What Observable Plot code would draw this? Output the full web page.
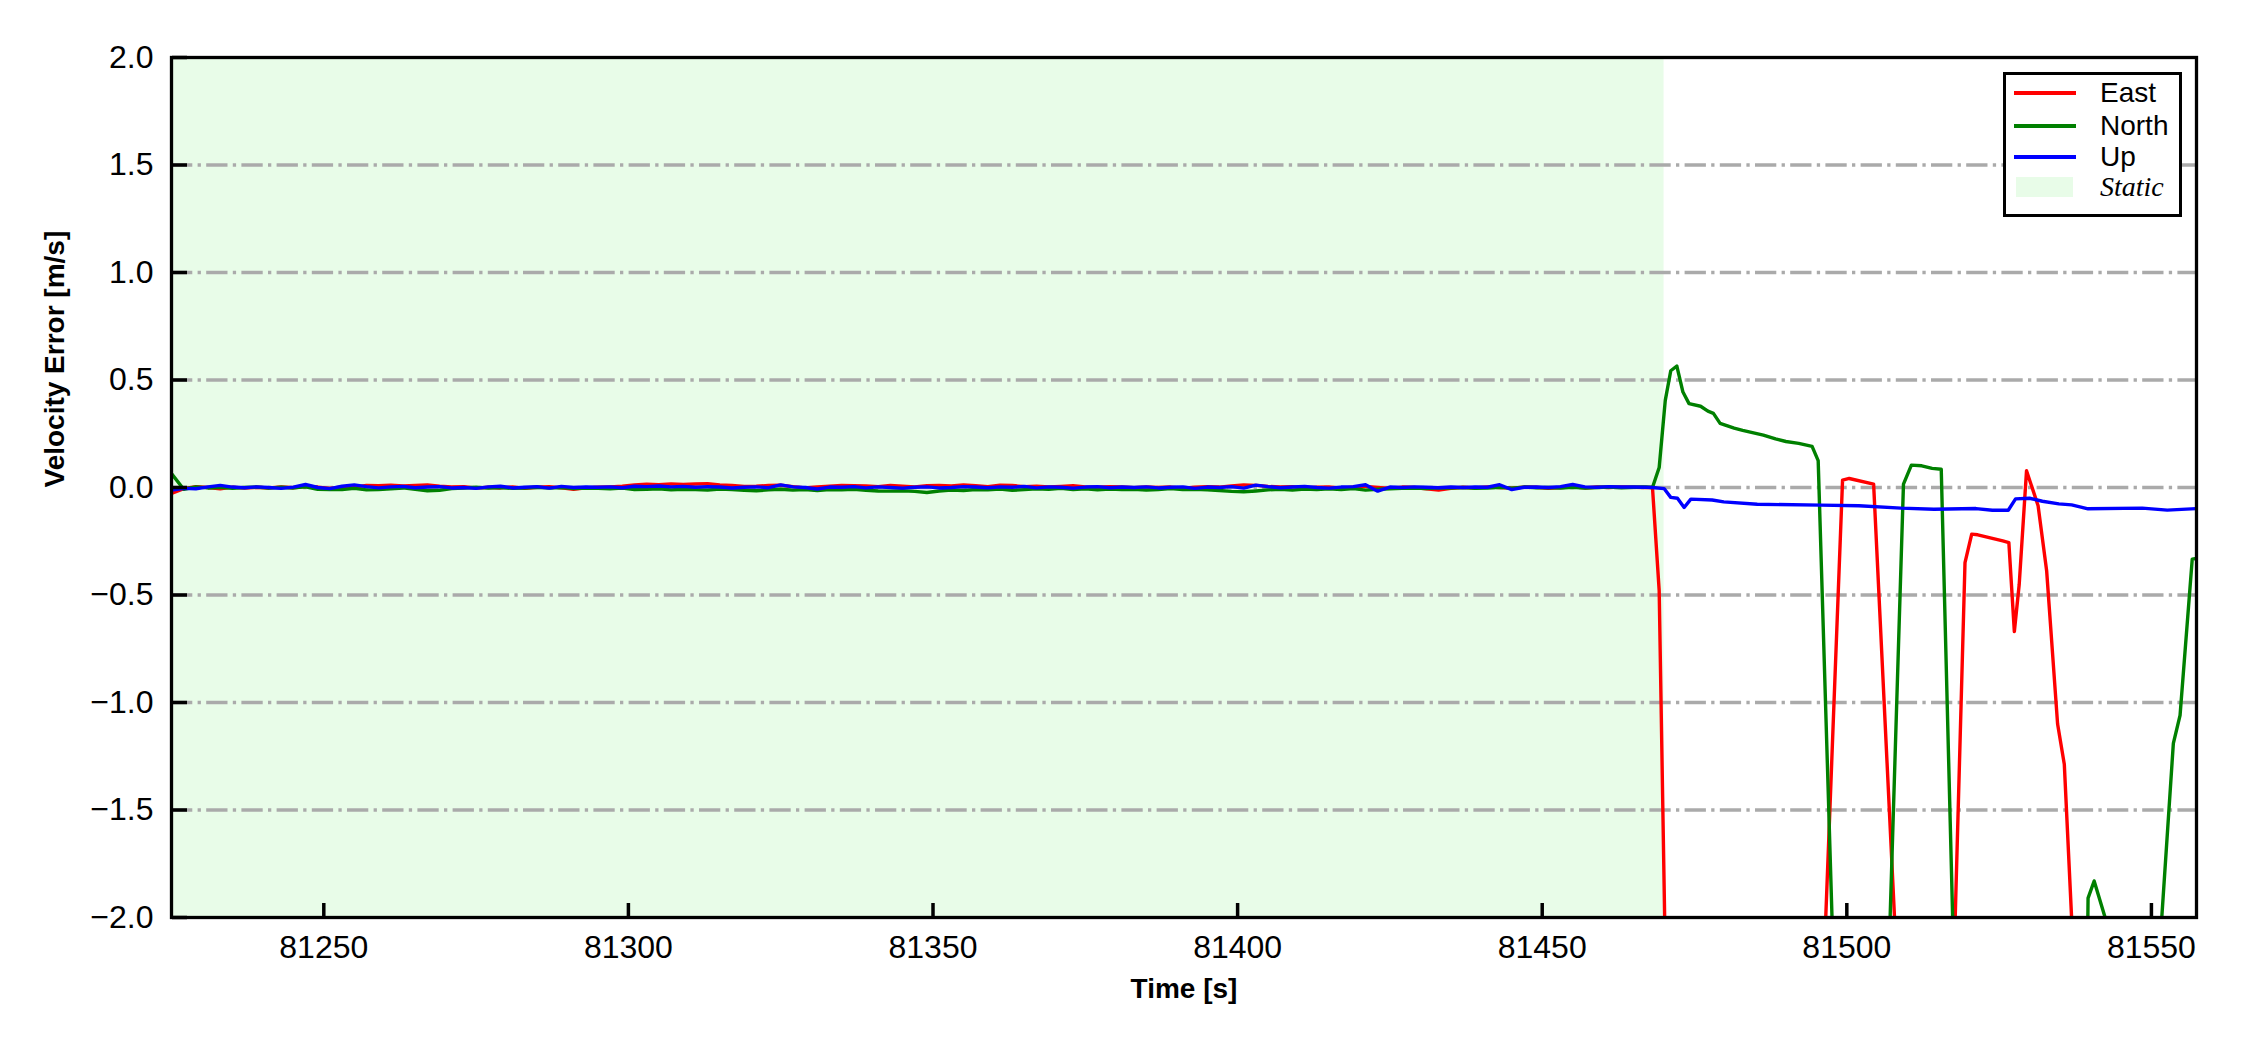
<!DOCTYPE html>
<html>
<head>
<meta charset="utf-8">
<script src="https://cdn.jsdelivr.net/npm/d3@7"></script>
<script src="https://cdn.jsdelivr.net/npm/@observablehq/plot@0.6"></script>
<style>
html, body { margin: 0; padding: 0; background: #fff; }
#wrap { position: relative; width: 2250px; height: 1050px; }
.legend { position: absolute; left: 2003px; top: 72px; width: 179px; height: 145px; box-sizing: border-box;
  border: 3px solid #000; background: #fff; font-family: "Liberation Sans", Arial, sans-serif; font-size: 28px; }
.legend .ln { position: absolute; left: 8px; width: 62px; height: 3.5px; }
.legend .tx { position: absolute; left: 94px; height: 32px; line-height: 32px; white-space: nowrap; color: #000; }
.legend .patch { position: absolute; left: 10px; width: 57px; top: 102px; height: 20px; }
</style>
</head>
<body>
<div id="wrap"></div>
<script>
// ---------------- data ----------------
const seriesNames = ["East", "North", "Up"];
const seriesColors = ["#ff0000", "#008000", "#0000ff"];
const staticLabel = "Static";
const staticColor = "#e8fce8";
const staticStart = 81225;
const staticEnd = 81470;
const xDomain = [81225, 81557.4];
const yDomain = [-2, 2];
const xTicks = [81250, 81300, 81350, 81400, 81450, 81500, 81550];
const yTicks = [-2.0, -1.5, -1.0, -0.5, 0.0, 0.5, 1.0, 1.5, 2.0];
const gridValues = [-1.5, -1.0, -0.5, 0.0, 0.5, 1.0, 1.5];

// static period samples every 2 s from 81225 to 81467
const staticTimes = d3.range(81225, 81468, 2);

const eastStatic = [
  -0.028, -0.005, 0.004, 0.000, -0.006, 0.002, -0.003, 0.001, -0.002, 0.003,
  -0.001, 0.006, 0.002, -0.004, 0.003, 0.002, 0.010, 0.008, 0.011, 0.007,
  0.009, 0.012, 0.006, 0.002, 0.004, -0.003, 0.001, -0.002, 0.003, -0.004,
  0.001, 0.004, -0.002, -0.008, -0.002, 0.001, 0.003, 0.006, 0.012, 0.015,
  0.013, 0.017, 0.014, 0.016, 0.018, 0.012, 0.010, 0.005, 0.006, 0.009,
  0.011, 0.004, -0.002, 0.003, 0.006, 0.010, 0.008, 0.007, 0.004, 0.009,
  0.006, 0.003, 0.008, 0.010, 0.007, 0.012, 0.008, 0.004, 0.011, 0.009,
  0.004, 0.006, 0.002, 0.005, 0.008, 0.003, 0.001, 0.004, 0.002, -0.001,
  0.003, 0.000, 0.002, -0.003, 0.001, 0.004, 0.002, 0.007, 0.012, 0.010,
  0.005, 0.002, 0.004, -0.002, 0.001, 0.003, -0.003, 0.002, 0.005, 0.000,
  -0.004, 0.002, 0.000, -0.006, -0.012, -0.004, 0.001, -0.002, 0.003, 0.000,
  -0.003, 0.002, 0.001, -0.004, 0.000, 0.003, -0.002, 0.002, 0.000, 0.003,
  0.001, 0.000
];
const northStatic = [
  0.065, -0.008, 0.003, -0.002, 0.001, -0.004, 0.000, 0.002, -0.003, 0.001,
  -0.002, 0.003, -0.008, -0.010, -0.009, -0.004, -0.011, -0.010, -0.006, -0.002,
  -0.008, -0.015, -0.013, -0.005, -0.002, 0.001, -0.003, 0.000, -0.004, -0.002,
  0.001, -0.003, 0.000, -0.005, -0.002, -0.004, -0.006, -0.003, -0.009, -0.008,
  -0.006, -0.011, -0.008, -0.010, -0.012, -0.007, -0.009, -0.013, -0.015, -0.011,
  -0.008, -0.012, -0.010, -0.014, -0.009, -0.011, -0.008, -0.013, -0.016, -0.017,
  -0.015, -0.018, -0.023, -0.016, -0.012, -0.014, -0.009, -0.011, -0.007, -0.013,
  -0.010, -0.006, -0.008, -0.004, -0.009, -0.006, -0.011, -0.007, -0.010, -0.008,
  -0.012, -0.009, -0.005, -0.010, -0.008, -0.011, -0.014, -0.018, -0.020, -0.016,
  -0.011, -0.008, -0.012, -0.007, -0.010, -0.006, -0.009, -0.005, -0.012, -0.008,
  -0.006, -0.004, -0.002, -0.005, -0.001, -0.003, 0.000, -0.004, -0.002, 0.001,
  -0.003, 0.002, -0.001, 0.000, -0.002, 0.001, -0.003, 0.000, 0.002, -0.001,
  0.001, 0.002
];
const upStatic = [
  -0.012, -0.004, -0.006, 0.003, 0.010, 0.002, -0.001, 0.003, 0.000, -0.004,
  0.002, 0.014, 0.000, -0.005, 0.006, 0.012, 0.004, -0.002, 0.003, 0.005,
  -0.001, 0.002, 0.004, -0.002, 0.000, -0.004, 0.003, 0.006, -0.002, 0.001,
  0.004, -0.003, 0.005, 0.000, 0.002, 0.001, 0.003, -0.001, 0.006, 0.004,
  0.007, 0.003, 0.005, 0.001, 0.004, 0.002, -0.002, 0.001, 0.003, -0.001,
  0.012, 0.003, 0.000, -0.007, 0.002, 0.001, 0.004, -0.002, 0.003, 0.000,
  -0.003, 0.001, 0.003, -0.002, 0.000, 0.004, 0.002, -0.001, 0.003, 0.001,
  0.005, -0.002, 0.003, 0.001, -0.003, 0.002, 0.004, -0.001, 0.002, 0.000,
  0.003, -0.002, 0.001, 0.003, -0.004, 0.002, 0.000, 0.004, -0.003, 0.011,
  0.004, -0.001, 0.002, 0.005, 0.000, -0.003, 0.002, 0.004, 0.013, -0.017,
  0.002, 0.000, 0.003, 0.001, -0.001, 0.002, 0.000, 0.002, 0.001, 0.013,
  -0.010, 0.001, 0.002, 0.000, 0.004, 0.014, 0.003, 0.001, 0.004, 0.002,
  0.002, 0.001
];

// after the static period
const eastMoveT = [81468.1, 81469.2, 81470.1, 81471, 81480, 81490, 81496, 81499.3, 81500.4, 81504.4,
  81508, 81512, 81517.5, 81519.4, 81520.5, 81521.5, 81525.6, 81526.6, 81527.5, 81528.3,
  81529.5, 81531.4, 81532.8, 81534.6, 81535.7, 81537.5, 81545, 81557.4];
const eastMoveV = [0.0, -0.48, -2.0, -4.5, -6, -6, -2.4, 0.034, 0.042, 0.016,
  -2.1, -5, -2.3, -0.349, -0.217, -0.22, -0.248, -0.256, -0.67, -0.45,
  0.078, -0.085, -0.387, -1.1, -1.287, -2.36, -5, -5];

const northMoveT = [81468.1, 81469.2, 81470.2, 81471.1, 81472.1, 81473.1, 81474.1, 81476, 81477.2, 81478.1,
  81479.2, 81481.5, 81482.9, 81486.3, 81488.3, 81490, 81492.1, 81494.3, 81495.3, 81498,
  81503, 81507, 81509.3, 81510.6, 81512.3, 81514, 81515.5, 81518, 81525, 81539,
  81539.6, 81540.6, 81542.4, 81543.5, 81547, 81551, 81553.6, 81554.7, 81556.7, 81557.4];
const northMoveV = [0.0, 0.093, 0.405, 0.543, 0.565, 0.444, 0.390, 0.378, 0.355, 0.345,
  0.298, 0.276, 0.266, 0.244, 0.226, 0.214, 0.205, 0.191, 0.125, -2.4,
  -5, -2.1, 0.016, 0.104, 0.101, 0.089, 0.085, -2.7, -5, -3.5,
  -1.91, -1.83, -2.0, -3.0, -4.0, -2.3, -1.19, -1.06, -0.333, -0.33];

const upMoveT = [81468.1, 81470, 81471.1, 81472.2, 81473.3, 81474.4, 81477.9, 81479.8, 81485.3, 81495.7,
  81502, 81508.9, 81514.3, 81521.2, 81523.9, 81526.5, 81527.7, 81530, 81532.1, 81534.8,
  81536.9, 81539.6, 81548.5, 81552.6, 81557.4];
const upMoveV = [0.0, -0.005, -0.046, -0.05, -0.093, -0.054, -0.058, -0.067, -0.078, -0.082,
  -0.085, -0.096, -0.101, -0.098, -0.106, -0.106, -0.053, -0.05, -0.064, -0.076,
  -0.081, -0.099, -0.096, -0.105, -0.098];

// ---------------- build ----------------
function build(staticVals, moveT, moveV) {
  return staticTimes.map((t, i) => ({t, v: staticVals[i]}))
    .concat(moveT.map((t, i) => ({t, v: moveV[i]})));
}
const seriesData = [
  build(eastStatic, eastMoveT, eastMoveV),
  build(northStatic, northMoveT, northMoveV),
  build(upStatic, upMoveT, upMoveV)
];

const font = '"Liberation Sans", Arial, Helvetica, sans-serif';
const lineW = 3.4;
const W = 2250, H = 1050;
const mL = 171, mR = 54, mT = 57, mB = 133;
const frameW = W - mL - mR, frameH = H - mT - mB;

const chart = Plot.plot({
  width: W,
  height: H,
  marginLeft: mL,
  marginRight: mR,
  marginTop: mT,
  marginBottom: mB,
  style: {fontFamily: font, fontSize: "32px", background: "white", color: "black"},
  x: {domain: xDomain},
  y: {domain: yDomain},
  marks: [
    Plot.rect([{x1: staticStart, x2: staticEnd}], {x1: "x1", x2: "x2", fill: staticColor}),
    Plot.ruleY(gridValues, {stroke: "#aaaaaa", strokeWidth: 3.3, strokeDasharray: "21.3,5.3,3.3,5.3"}),
    ...seriesData.map((d, i) => Plot.line(d, {x: "t", y: "v", stroke: seriesColors[i], strokeWidth: lineW, clip: true})),
    // inward ticks: a top axis shifted onto the bottom edge, a right axis shifted onto the left edge
    Plot.axisX({anchor: "top", ticks: xTicks, tickSize: 15, tickFormat: () => "", label: null, stroke: "black", strokeWidth: 3.5, dy: frameH}),
    Plot.axisY({anchor: "right", ticks: yTicks, tickSize: 15, tickFormat: () => "", label: null, stroke: "black", strokeWidth: 3.5, dx: -frameW}),
    // labels
    Plot.axisY({ticks: yTicks, tickFormat: d3.format(".1f"), tickSize: 0, tickPadding: 18, label: null, fontSize: 32}),
    Plot.axisX({ticks: xTicks, tickFormat: d3.format("d"), tickSize: 0, tickPadding: 18, label: null, fontSize: 32}),
    Plot.frame({stroke: "black", strokeWidth: 3.3}),
    Plot.text(["Time [s]"], {text: d => d, frameAnchor: "bottom", dy: 80, fontWeight: "bold", fontSize: 28}),
    Plot.text(["Velocity Error [m/s]"], {text: d => d, frameAnchor: "left", dx: -116, rotate: -90, fontWeight: "bold", fontSize: 28})
  ]
});

const wrap = document.getElementById("wrap");
wrap.appendChild(chart);

// legend
const legend = document.createElement("div");
legend.className = "legend";
const centers = [18, 51, 82];
seriesNames.forEach((name, i) => {
  const ln = document.createElement("div");
  ln.className = "ln";
  ln.style.top = (centers[i] - 1.75) + "px";
  ln.style.background = seriesColors[i];
  legend.appendChild(ln);
  const tx = document.createElement("div");
  tx.className = "tx";
  tx.style.top = (centers[i] - 16) + "px";
  tx.textContent = name;
  legend.appendChild(tx);
});
const patch = document.createElement("div");
patch.className = "patch";
patch.style.background = staticColor;
legend.appendChild(patch);
const stx = document.createElement("div");
stx.className = "tx";
stx.style.top = (112 - 16) + "px";
stx.style.fontFamily = '"Liberation Serif", "Times New Roman", serif';
stx.style.fontStyle = "italic";
stx.textContent = staticLabel;
legend.appendChild(stx);
wrap.appendChild(legend);
</script>
</body>
</html>
